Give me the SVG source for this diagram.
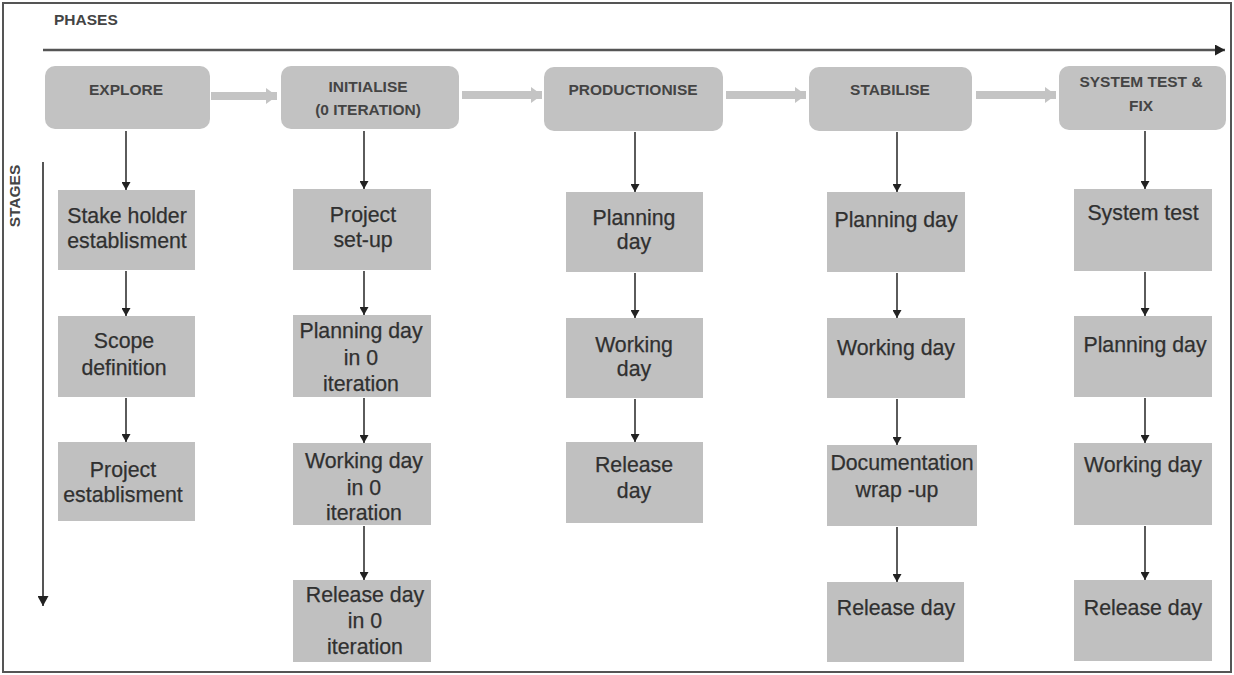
<svg xmlns="http://www.w3.org/2000/svg" width="1234" height="675" viewBox="0 0 1234 675">
  <style>
    .phase rect { fill: #c2c2c2; }
    .phase text { font-family: "Liberation Sans", Arial, sans-serif; font-size: 15.5px; font-weight: bold; fill: #444; text-anchor: middle; }
    .stage rect { fill: #c0c0c0; }
    .stage text { font-family: "Liberation Sans", Arial, sans-serif; font-size: 21.3px; fill: #303030; stroke: #303030; stroke-width: 0.25; text-anchor: middle; }
    .axis-label { font-family: "Liberation Sans", Arial, sans-serif; font-size: 15.5px; font-weight: bold; fill: #444; }
    .flow { stroke: #333; stroke-width: 1.6; fill: none; marker-end: url(#tip); }
    .phase-link { stroke: #c4c4c4; stroke-width: 8; fill: none; marker-end: url(#fat); }
    .axis { stroke: #555; stroke-width: 2.5; fill: none; }
  </style>
  <defs>
    <marker id="tip" markerWidth="9" markerHeight="9" refX="8" refY="4.5" orient="auto" markerUnits="userSpaceOnUse">
      <path d="M0,0 L8,4.5 L0,9 Z" fill="#222"/>
    </marker>
    <marker id="fat" markerWidth="12" markerHeight="16" refX="11" refY="8" orient="auto" markerUnits="userSpaceOnUse">
      <path d="M0,0 L11,8 L0,16 Z" fill="#c4c4c4"/>
    </marker>
    <marker id="axtip" markerWidth="11" markerHeight="11" refX="10" refY="5.5" orient="auto" markerUnits="userSpaceOnUse">
      <path d="M0,0 L10,5.5 L0,11 Z" fill="#222"/>
    </marker>
  </defs>

  <rect x="0" y="0" width="1234" height="675" fill="#fff"/>
  <!-- outer frame -->
  <rect x="3" y="3" width="1228" height="669" fill="none" stroke="#555" stroke-width="2"/>

  <!-- axes -->
  <g id="axes">
    <text class="axis-label" x="54" y="25">PHASES</text>
    <line class="axis" x1="43" y1="50" x2="1225" y2="50" marker-end="url(#axtip)"/>
    <text class="axis-label" transform="translate(20,196) rotate(-90)" text-anchor="middle" font-size="14.5">STAGES</text>
    <line x1="43" y1="162" x2="43" y2="606" stroke="#555" stroke-width="2" marker-end="url(#axtip)"/>
  </g>

  <!-- connectors -->
  <g id="connectors">
    <line class="phase-link" x1="211" y1="96" x2="277" y2="96"/>
    <line class="phase-link" x1="462" y1="95" x2="542" y2="95"/>
    <line class="phase-link" x1="726" y1="95" x2="806" y2="95"/>
    <line class="phase-link" x1="976" y1="95" x2="1056" y2="95"/>

    <line class="flow" x1="126" y1="131" x2="126" y2="190"/>
    <line class="flow" x1="126" y1="271" x2="126" y2="316"/>
    <line class="flow" x1="126" y1="398" x2="126" y2="442"/>

    <line class="flow" x1="364" y1="131" x2="364" y2="189"/>
    <line class="flow" x1="364" y1="271" x2="364" y2="315"/>
    <line class="flow" x1="364" y1="398" x2="364" y2="443"/>
    <line class="flow" x1="364" y1="526" x2="364" y2="580"/>

    <line class="flow" x1="635" y1="132" x2="635" y2="192"/>
    <line class="flow" x1="635" y1="273" x2="635" y2="318"/>
    <line class="flow" x1="635" y1="399" x2="635" y2="442"/>

    <line class="flow" x1="897" y1="132" x2="897" y2="192"/>
    <line class="flow" x1="897" y1="273" x2="897" y2="318"/>
    <line class="flow" x1="897" y1="399" x2="897" y2="445"/>
    <line class="flow" x1="897" y1="527" x2="897" y2="582"/>

    <line class="flow" x1="1145" y1="131" x2="1145" y2="189"/>
    <line class="flow" x1="1145" y1="272" x2="1145" y2="316"/>
    <line class="flow" x1="1145" y1="398" x2="1145" y2="443"/>
    <line class="flow" x1="1145" y1="526" x2="1145" y2="580"/>
  </g>

  <!-- phases -->
  <g id="explore" class="phase">
    <rect x="45" y="66" width="165" height="63" rx="10"/>
    <text x="126" y="95">EXPLORE</text>
  </g>
  <g id="initialise" class="phase">
    <rect x="281" y="66" width="178" height="63" rx="10"/>
    <text x="368" y="92">INITIALISE</text>
    <text x="368" y="115">(0 ITERATION)</text>
  </g>
  <g id="productionise" class="phase">
    <rect x="544" y="67" width="179" height="64" rx="10"/>
    <text x="633" y="95">PRODUCTIONISE</text>
  </g>
  <g id="stabilise" class="phase">
    <rect x="809" y="67" width="163" height="64" rx="10"/>
    <text x="890" y="95">STABILISE</text>
  </g>
  <g id="system-test" class="phase">
    <rect x="1059" y="66" width="167" height="64" rx="10"/>
    <text x="1141" y="87">SYSTEM TEST &amp;</text>
    <text x="1141" y="111">FIX</text>
  </g>

  <!-- explore stages -->
  <g id="stakeholder" class="stage">
    <rect x="58" y="190" width="137" height="80"/>
    <text x="127" y="223">Stake holder</text>
    <text x="127" y="248">establisment</text>
  </g>
  <g id="scope" class="stage">
    <rect x="58" y="316" width="137" height="81"/>
    <text x="124" y="348">Scope</text>
    <text x="124" y="375">definition</text>
  </g>
  <g id="project-est" class="stage">
    <rect x="58" y="442" width="137" height="79"/>
    <text x="123" y="477">Project</text>
    <text x="123" y="502">establisment</text>
  </g>

  <!-- initialise stages -->
  <g id="setup" class="stage">
    <rect x="293" y="189" width="138" height="81"/>
    <text x="363" y="222">Project</text>
    <text x="363" y="247">set-up</text>
  </g>
  <g id="plan0" class="stage">
    <rect x="293" y="315" width="138" height="82"/>
    <text x="361" y="338">Planning day</text>
    <text x="361" y="365">in 0</text>
    <text x="361" y="391">iteration</text>
  </g>
  <g id="work0" class="stage">
    <rect x="293" y="443" width="138" height="82"/>
    <text x="364" y="468">Working day</text>
    <text x="364" y="495">in 0</text>
    <text x="364" y="520">iteration</text>
  </g>
  <g id="release0" class="stage">
    <rect x="293" y="580" width="138" height="82"/>
    <text x="365" y="602">Release day</text>
    <text x="365" y="628">in 0</text>
    <text x="365" y="654">iteration</text>
  </g>

  <!-- productionise stages -->
  <g id="prod-plan" class="stage">
    <rect x="566" y="192" width="137" height="80"/>
    <text x="634" y="225">Planning</text>
    <text x="634" y="249">day</text>
  </g>
  <g id="prod-work" class="stage">
    <rect x="566" y="318" width="137" height="80"/>
    <text x="634" y="352">Working</text>
    <text x="634" y="376">day</text>
  </g>
  <g id="prod-release" class="stage">
    <rect x="566" y="442" width="137" height="81"/>
    <text x="634" y="472">Release</text>
    <text x="634" y="498">day</text>
  </g>

  <!-- stabilise stages -->
  <g id="stab-plan" class="stage">
    <rect x="827" y="192" width="138" height="80"/>
    <text x="896" y="227">Planning day</text>
  </g>
  <g id="stab-work" class="stage">
    <rect x="827" y="318" width="138" height="80"/>
    <text x="896" y="355">Working day</text>
  </g>
  <g id="stab-doc" class="stage">
    <rect x="827" y="445" width="150" height="81"/>
    <text x="902" y="470">Documentation</text>
    <text x="897" y="497">wrap  -up</text>
  </g>
  <g id="stab-release" class="stage">
    <rect x="827" y="582" width="137" height="80"/>
    <text x="896" y="615">Release day</text>
  </g>

  <!-- system test stages -->
  <g id="sys-test" class="stage">
    <rect x="1074" y="189" width="138" height="82"/>
    <text x="1143" y="220">System test</text>
  </g>
  <g id="sys-plan" class="stage">
    <rect x="1074" y="316" width="138" height="81"/>
    <text x="1145" y="352">Planning day</text>
  </g>
  <g id="sys-work" class="stage">
    <rect x="1074" y="443" width="138" height="82"/>
    <text x="1143" y="472">Working day</text>
  </g>
  <g id="sys-release" class="stage">
    <rect x="1074" y="580" width="138" height="81"/>
    <text x="1143" y="615">Release day</text>
  </g>
</svg>
